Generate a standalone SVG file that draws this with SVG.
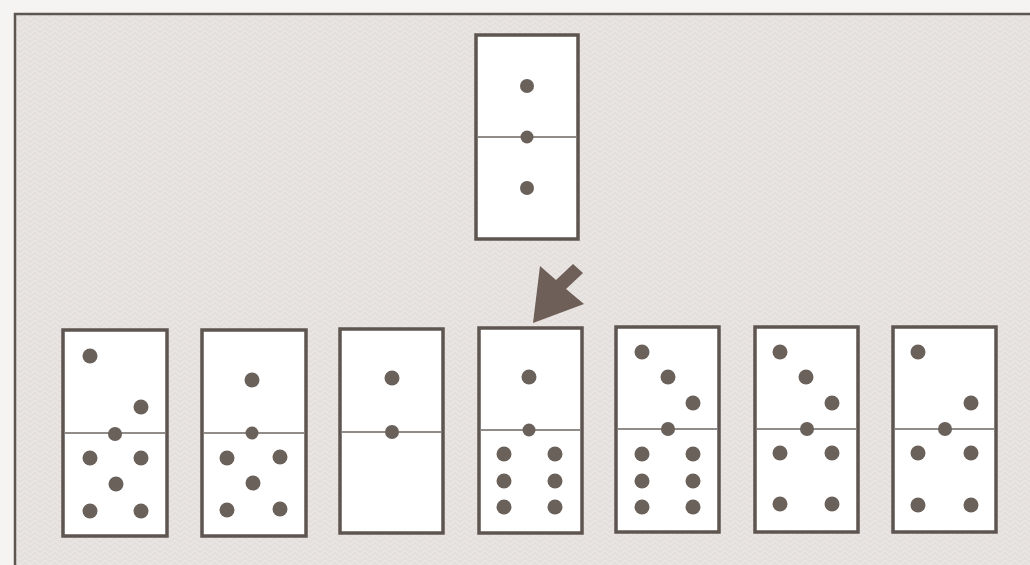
<svg xmlns="http://www.w3.org/2000/svg" width="1030" height="565" viewBox="0 0 1030 565">
<defs>
<pattern id="hb" width="10" height="10" patternUnits="userSpaceOnUse">
<rect width="10" height="10" fill="#e4dfdd"/>
<path d="M0 5 L5 0 L10 5 M0 10 L5 5 L10 10" fill="none" stroke="#ebe7e5" stroke-width="1.5"/>
</pattern>
<style>
.dom{fill:#ffffff;stroke:#5e5550;stroke-width:3.5}
.div{stroke:#6e6661;stroke-width:1.5}
.pip{fill:#6a615b}
.cpip{fill:#6a615b}
</style>
</defs>
<rect width="1030" height="565" fill="#f6f4f3"/>
<rect x="15" y="14" width="1030" height="560" fill="url(#hb)" stroke="#5e5650" stroke-width="2.5"/>

<g id="domino-top">
<rect class="dom" x="476" y="35" width="102" height="204"/>
<line class="div" x1="478" y1="137" x2="576" y2="137"/>
<circle class="pip" cx="527" cy="86" r="7"/>
<circle class="cpip" cx="527" cy="137" r="6.5"/>
<circle class="pip" cx="527" cy="188" r="7"/>
</g>

<g id="domino-1">
<rect class="dom" x="63" y="330" width="104" height="206"/>
<line class="div" x1="65" y1="433" x2="165" y2="433"/>
<circle class="pip" cx="90" cy="356" r="7.5"/>
<circle class="pip" cx="141" cy="407" r="7.5"/>
<circle class="cpip" cx="115" cy="434" r="7"/>
<circle class="pip" cx="90" cy="458" r="7.5"/>
<circle class="pip" cx="141" cy="458" r="7.5"/>
<circle class="pip" cx="116" cy="484" r="7.5"/>
<circle class="pip" cx="90" cy="511" r="7.5"/>
<circle class="pip" cx="141" cy="511" r="7.5"/>
</g>

<g id="domino-2">
<rect class="dom" x="202" y="330" width="104" height="206"/>
<line class="div" x1="204" y1="433" x2="304" y2="433"/>
<circle class="pip" cx="252" cy="380" r="7.5"/>
<circle class="cpip" cx="252" cy="433" r="6.5"/>
<circle class="pip" cx="227" cy="458" r="7.5"/>
<circle class="pip" cx="280" cy="457" r="7.5"/>
<circle class="pip" cx="253" cy="483" r="7.5"/>
<circle class="pip" cx="227" cy="510" r="7.5"/>
<circle class="pip" cx="280" cy="509" r="7.5"/>
</g>

<g id="domino-3">
<rect class="dom" x="340" y="329" width="103" height="204"/>
<line class="div" x1="342" y1="432" x2="441" y2="432"/>
<circle class="pip" cx="392" cy="378" r="7.5"/>
<circle class="cpip" cx="392" cy="432" r="7"/>
</g>

<g id="domino-4">
<rect class="dom" x="479" y="328" width="103" height="205"/>
<line class="div" x1="481" y1="430" x2="580" y2="430"/>
<circle class="pip" cx="529" cy="377" r="7.5"/>
<circle class="cpip" cx="529" cy="430" r="6.5"/>
<circle class="pip" cx="504" cy="454" r="7.5"/>
<circle class="pip" cx="555" cy="454" r="7.5"/>
<circle class="pip" cx="504" cy="481" r="7.5"/>
<circle class="pip" cx="555" cy="481" r="7.5"/>
<circle class="pip" cx="504" cy="507" r="7.5"/>
<circle class="pip" cx="555" cy="507" r="7.5"/>
</g>

<g id="domino-5">
<rect class="dom" x="616" y="327" width="103" height="205"/>
<line class="div" x1="618" y1="429" x2="717" y2="429"/>
<circle class="pip" cx="642" cy="352" r="7.5"/>
<circle class="pip" cx="668" cy="377" r="7.5"/>
<circle class="pip" cx="693" cy="403" r="7.5"/>
<circle class="cpip" cx="668" cy="429" r="7"/>
<circle class="pip" cx="642" cy="454" r="7.5"/>
<circle class="pip" cx="693" cy="454" r="7.5"/>
<circle class="pip" cx="642" cy="481" r="7.5"/>
<circle class="pip" cx="693" cy="481" r="7.5"/>
<circle class="pip" cx="642" cy="507" r="7.5"/>
<circle class="pip" cx="693" cy="507" r="7.5"/>
</g>

<g id="domino-6">
<rect class="dom" x="755" y="327" width="103" height="205"/>
<line class="div" x1="757" y1="429" x2="856" y2="429"/>
<circle class="pip" cx="780" cy="352" r="7.5"/>
<circle class="pip" cx="806" cy="377" r="7.5"/>
<circle class="pip" cx="832" cy="403" r="7.5"/>
<circle class="cpip" cx="807" cy="429" r="7"/>
<circle class="pip" cx="780" cy="453" r="7.5"/>
<circle class="pip" cx="832" cy="453" r="7.5"/>
<circle class="pip" cx="780" cy="504" r="7.5"/>
<circle class="pip" cx="832" cy="504" r="7.5"/>
</g>

<g id="domino-7">
<rect class="dom" x="893" y="327" width="103" height="205"/>
<line class="div" x1="895" y1="429" x2="994" y2="429"/>
<circle class="pip" cx="918" cy="352" r="7.5"/>
<circle class="pip" cx="971" cy="403" r="7.5"/>
<circle class="cpip" cx="945" cy="429" r="7"/>
<circle class="pip" cx="918" cy="453" r="7.5"/>
<circle class="pip" cx="971" cy="453" r="7.5"/>
<circle class="pip" cx="918" cy="505" r="7.5"/>
<circle class="pip" cx="971" cy="505" r="7.5"/>
</g>

<g id="connectors">
<polygon fill="#6e5f58" points="533,323 540,266 556,280 573,264 583,273 566,289 584,304"/>
</g>
</svg>
